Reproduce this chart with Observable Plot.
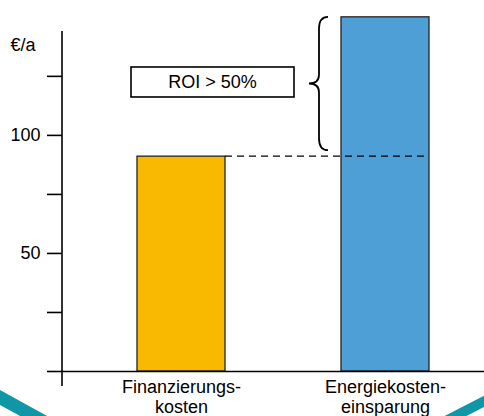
<!DOCTYPE html>
<html><head><meta charset="utf-8">
<script src="https://cdn.jsdelivr.net/npm/d3@7"></script>
<script src="https://cdn.jsdelivr.net/npm/@observablehq/plot@0.6"></script>
<style>html,body{margin:0;padding:0;background:#fff;overflow:hidden;}</style>
</head><body><div id="chart"></div>
<script>
const categories = ["Finanzierungskosten", "Energiekosteneinsparung"];
const categoryLabels = ["Finanzierungs-\nkosten", "Energiekosten-\neinsparung"];
const values = [91, 150];
const barColors = ["#F9B900", "#4E9FD6"];
const yTicks = [0, 25, 50, 75, 100, 125];
const yTickLabels = [50, 100];
const yUnit = "€/a";
const roiText = "ROI > 50%";

const data = categories.map((c, i) => ({category: c, value: values[i]}));
const FONT = "'Liberation Sans', Arial, Helvetica, sans-serif";

function annotations(index, scales, values_, dims) {
  const x = scales.x, y = scales.y;
  const bw = x.bandwidth ? x.bandwidth() : 87.5;
  const g = d3.create("svg:g");
  // decorative teal corner strokes
  g.append("line").attr("x1", -10).attr("y1", dims.height - 24).attr("x2", 50).attr("y2", dims.height + 9)
    .attr("stroke", "#0F97A8").attr("stroke-width", 13);
  g.append("line").attr("x1", dims.width - 44).attr("y1", dims.height + 8).attr("x2", dims.width + 16).attr("y2", dims.height - 23)
    .attr("stroke", "#0F97A8").attr("stroke-width", 10);
  // y axis line extending below baseline
  g.append("line").attr("x1", dims.marginLeft).attr("x2", dims.marginLeft)
    .attr("y1", dims.marginTop).attr("y2", y(0) + 15)
    .attr("stroke", "#000").attr("stroke-width", 1.6);
  // dashed reference line at the financing cost level
  const yRef = y(values[0]);
  g.append("line").attr("x1", x(categories[0]) + bw).attr("x2", x(categories[1]) + bw - 3)
    .attr("y1", yRef).attr("y2", yRef)
    .attr("stroke", "#000").attr("stroke-width", 1.3).attr("stroke-dasharray", "7,5");
  // curly brace
  const xb = x(categories[1]);
  const top = y(values[1]);
  const bot = y(values[0]) - 6;
  const mid = (top + bot) / 2;
  const xe = xb - 13, xs = xb - 22, xc = xb - 32;
  g.append("path")
    .attr("d", `M${xe},${top} Q${xs},${top} ${xs},${top + 12} L${xs},${mid - 9} Q${xs},${mid} ${xc},${mid} Q${xs},${mid} ${xs},${mid + 9} L${xs},${bot - 12} Q${xs},${bot} ${xe},${bot}`)
    .attr("fill", "none").attr("stroke", "#000").attr("stroke-width", 1.8);
  // ROI box
  const bx2 = xc - 15, bwid = 163, bh = 30, cy = mid - 1.5;
  g.append("rect").attr("x", bx2 - bwid).attr("y", cy - bh / 2).attr("width", bwid).attr("height", bh)
    .attr("fill", "#fff").attr("stroke", "#000").attr("stroke-width", 1.6);
  g.append("text").attr("x", bx2 - bwid / 2).attr("y", cy).attr("dy", "0.35em")
    .attr("text-anchor", "middle").attr("font-size", 18).attr("font-family", FONT).attr("fill", "#000")
    .text(roiText);
  return g.node();
}

const plot = Plot.plot({
  width: 484,
  height: 416,
  marginLeft: 62,
  marginRight: 0,
  marginTop: 31,
  marginBottom: 45,
  style: {fontFamily: FONT, fontSize: "18px", background: "#fff", color: "#000", overflow: "hidden"},
  x: {domain: categories, range: [137, 429], paddingInner: 0.57, paddingOuter: 0},
  y: {domain: [0, 144]},
  color: {domain: categories, range: barColors},
  marks: [
    Plot.barY(data, {x: "category", y: "value", fill: "category", stroke: "#222", strokeWidth: 1.3}),
    Plot.ruleY([0], {stroke: "#000", strokeWidth: 1.6}),
    Plot.axisY({ticks: yTicks, tickSize: 15, tickPadding: 7, strokeWidth: 1.6, fontSize: 18,
      tickFormat: d => yTickLabels.includes(d) ? String(d) : "", label: null}),
    Plot.axisX({tickSize: 0, tickPadding: 7, fontSize: 18, lineHeight: 1.12, label: null,
      tickFormat: d => categoryLabels[categories.indexOf(d)]}),
    Plot.text([yUnit], {text: d => d, frameAnchor: "top-left", dx: -52, dy: 7, textAnchor: "start", fontSize: 18}),
    annotations
  ]
});
document.getElementById("chart").appendChild(plot);
</script>
</body></html>
